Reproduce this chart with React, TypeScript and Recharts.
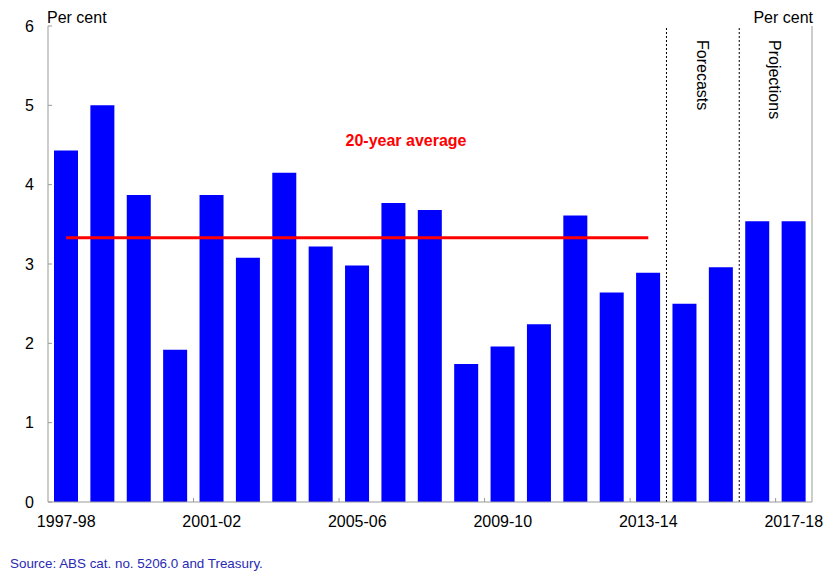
import { ComposedChart, Bar, Line, XAxis, YAxis, ReferenceLine } from 'recharts';

const YEARS = [
  '1997-98', '1998-99', '1999-00', '2000-01', '2001-02', '2002-03', '2003-04',
  '2004-05', '2005-06', '2006-07', '2007-08', '2008-09', '2009-10', '2010-11',
  '2011-12', '2012-13', '2013-14', '2014-15', '2015-16', '2016-17', '2017-18',
];
const GROWTH = [
  4.43, 5.0, 3.87, 1.92, 3.87, 3.08, 4.15,
  3.22, 2.98, 3.77, 3.68, 1.74, 1.96, 2.24,
  3.61, 2.64, 2.89, 2.5, 2.96, 3.54, 3.54,
];
const AVERAGE = 3.33;
const AVERAGE_LAST = '2013-14';
const Y_TICKS = [0, 1, 2, 3, 4, 5, 6];

const FONT = '"Liberation Sans", Arial, sans-serif';
const BAR_BLUE = '#0000ff';
const AXIS_GREY = '#999999';
const AVG_RED = '#ff0000';
const SOURCE_BLUE = '#2a2ab5';

const lastAvgIdx = YEARS.indexOf(AVERAGE_LAST);
const data = YEARS.map((year, i) => ({
  year,
  value: GROWTH[i],
  avg: i <= lastAvgIdx ? AVERAGE : null,
}));

function LeftTick(props: any) {
  const { x, y, payload } = props;
  return (
    <g>
      <line x1={x + 14} y1={y} x2={x + 18} y2={y} stroke={AXIS_GREY} />
      <text x={x} y={y} dy="0.36em" textAnchor="end" fontSize={16} fill="#000" fontFamily={FONT}>
        {payload.value}
      </text>
    </g>
  );
}

function RightTick(props: any) {
  const { x, y, payload } = props;
  return (
    <g>
      <line x1={x - 10} y1={y} x2={x - 14} y2={y} stroke={AXIS_GREY} />
      <text x={x} y={y} dy="0.36em" textAnchor="start" fontSize={16} fill="#000" fontFamily={FONT}>
        {payload.value}
      </text>
    </g>
  );
}

function BottomTick(props: any) {
  const { x, y, payload } = props;
  const half = payload.offset ?? 18.2;
  const edge = x - half;
  return (
    <g>
      {payload.value !== YEARS[0] && (
        <line x1={edge} y1={y} x2={edge} y2={y - 4} stroke={AXIS_GREY} />
      )}
      <text x={x} y={y + 25} textAnchor="middle" fontSize={16} fill="#000" fontFamily={FONT}>
        {payload.value}
      </text>
    </g>
  );
}

function SideLabel(text: string) {
  return (props: any) => {
    const { viewBox } = props;
    const cx = viewBox.x + 36;
    const cy = viewBox.y + 14;
    return (
      <text
        x={cx}
        y={cy}
        transform={`rotate(90 ${cx} ${cy})`}
        dy="0.36em"
        textAnchor="start"
        fontSize={16}
        fill="#000"
        fontFamily={FONT}
      >
        {text}
      </text>
    );
  };
}

export default function App() {
  return (
    <div style={{ position: 'absolute', left: 0, top: 0, width: 834, height: 573, fontFamily: FONT, background: '#fff' }}>
      <ComposedChart
        width={834}
        height={573}
        data={data}
        margin={{ top: 26, right: 0, bottom: 0, left: 0 }}
        barCategoryGap={0}
      >
        <XAxis
          dataKey="year"
          interval={3}
          height={71}
          tickSize={0}
          tickMargin={0}
          axisLine={{ stroke: AXIS_GREY }}
          tickLine={false}
          tick={<BottomTick />}
        />
        <YAxis
          yAxisId="left"
          domain={[0, 6]}
          ticks={Y_TICKS}
          width={48}
          tickSize={0}
          tickMargin={14}
          axisLine={{ stroke: AXIS_GREY }}
          tickLine={false}
          tick={<LeftTick />}
        />
        <YAxis
          yAxisId="right"
          orientation="right"
          domain={[0, 6]}
          ticks={Y_TICKS}
          width={22}
          tickSize={0}
          tickMargin={10}
          axisLine={{ stroke: AXIS_GREY }}
          tickLine={false}
          tick={<RightTick />}
        />
        <Bar yAxisId="left" dataKey="value" fill={BAR_BLUE} barSize={24} isAnimationActive={false} />
        <Line
          yAxisId="left"
          dataKey="avg"
          stroke={AVG_RED}
          strokeWidth={3}
          dot={false}
          activeDot={false}
          connectNulls={false}
          isAnimationActive={false}
        />
        <ReferenceLine
          yAxisId="left"
          x="2014-15"
          position="start"
          stroke="#000"
          strokeDasharray="2 2"
          label={SideLabel('Forecasts')}
        />
        <ReferenceLine
          yAxisId="left"
          x="2016-17"
          position="start"
          stroke="#000"
          strokeDasharray="2 2"
          label={SideLabel('Projections')}
        />
      </ComposedChart>
      <div style={{ position: 'absolute', left: 47, top: 8, fontSize: 16, lineHeight: '20px' }}>Per cent</div>
      <div style={{ position: 'absolute', right: 21, top: 8, fontSize: 16, lineHeight: '20px' }}>Per cent</div>
      <div
        style={{
          position: 'absolute', left: 406, top: 131, transform: 'translateX(-50%)',
          fontSize: 16, lineHeight: '20px', fontWeight: 'bold', color: AVG_RED, whiteSpace: 'nowrap',
        }}
      >
        20-year average
      </div>
      <div style={{ position: 'absolute', left: 10, top: 556, fontSize: 13.4, lineHeight: '16px', color: SOURCE_BLUE, whiteSpace: 'nowrap' }}>
        Source: ABS cat. no. 5206.0 and Treasury.
      </div>
    </div>
  );
}
